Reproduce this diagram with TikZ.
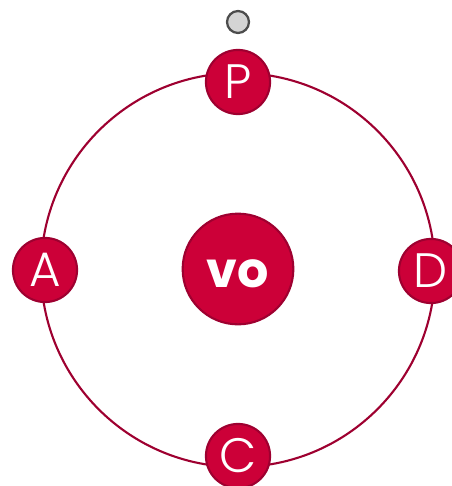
\documentclass[tikz,border=0pt]{standalone}
\usepackage{fontspec}
\setmainfont{Poppins}[UprightFont=* Light, BoldFont=* Bold]
\usepackage{tikz}

\definecolor{crimson}{HTML}{CC0038}
\definecolor{crimsonedge}{HTML}{9E0030}
\definecolor{knob}{HTML}{D4D4D4}

\tikzset{
  letter/.style={fill=crimson, draw=crimsonedge, line width=1.2pt, circle, minimum size=36.5pt, inner sep=0pt, text=white, font=\fontsize{27.5}{27.5}\selectfont},
  core/.style={fill=crimson, draw=crimsonedge, line width=1.2pt, circle, minimum size=63pt, inner sep=0pt},
  coretext/.style={text=white, inner sep=0pt, font=\fontsize{28}{28}\selectfont\bfseries},
  handle/.style={fill=knob, draw=black!70, line width=1.3pt, circle, minimum size=12.5pt, inner sep=0pt}
}

\begin{document}
\begin{tikzpicture}[x=0.02cm, y=-0.02cm]
\useasboundingbox (0,0) rectangle (451,486);

\draw[crimsonedge, line width=1.2pt] (238,270) circle (197);

\node[handle] (H) at (238,22) {};
\node[letter] (P) at (238,82) {P};
\node[letter] (A) at (45,270) {A};
\node[letter] (D) at (431,271) {D};
\node[letter] (C) at (238,456) {C};

\node[core] (vo) at (238,269) {};
% word sits a little under the centre
\node[coretext] (vot) at ([yshift=-2.8pt]vo.center) {vo};
\end{tikzpicture}
\end{document}
